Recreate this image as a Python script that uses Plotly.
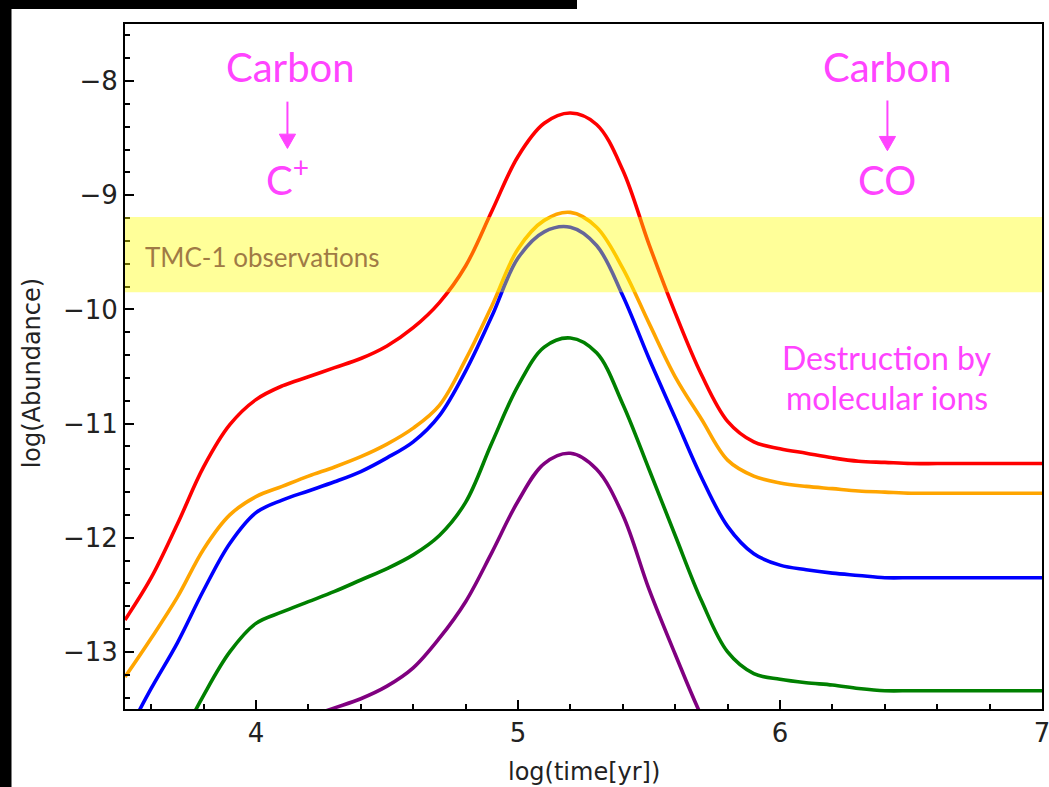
import plotly.graph_objects as go

# Abundance curves: log(time [yr]) vs log(abundance), sampled every 0.1 dex in time
red_x = [3.5, 3.6, 3.7, 3.8, 3.9, 4.0, 4.1, 4.2, 4.3, 4.4, 4.5, 4.6, 4.7, 4.8, 4.9, 5.0, 5.1, 5.2,
         5.3, 5.4, 5.5, 5.6, 5.7, 5.8, 5.9, 6.0, 6.1, 6.2, 6.3, 6.4, 6.5, 6.6, 6.7, 6.8, 6.9, 7.0]
red_y = [-12.72, -12.35, -11.88, -11.38, -11.01, -10.79, -10.67, -10.59, -10.51, -10.43, -10.32,
         -10.16, -9.94, -9.62, -9.14, -8.66, -8.37, -8.28, -8.38, -8.78, -9.43, -10.03, -10.57,
         -10.98, -11.16, -11.22, -11.26, -11.30, -11.33, -11.34, -11.35, -11.35, -11.35, -11.35,
         -11.35, -11.35]

orange_x = red_x
orange_y = [-13.22, -12.88, -12.52, -12.10, -11.80, -11.64, -11.55, -11.46, -11.38, -11.29, -11.18,
            -11.04, -10.84, -10.44, -9.97, -9.47, -9.22, -9.15, -9.28, -9.64, -10.12, -10.59, -10.96,
            -11.32, -11.46, -11.52, -11.55, -11.57, -11.59, -11.60, -11.61, -11.61, -11.61, -11.61,
            -11.61, -11.61]

blue_x = red_x
blue_y = [-13.75, -13.32, -12.92, -12.46, -12.05, -11.78, -11.67, -11.59, -11.51, -11.42, -11.30,
          -11.16, -10.93, -10.54, -10.06, -9.55, -9.32, -9.28, -9.44, -9.88, -10.43, -10.95, -11.47,
          -11.90, -12.14, -12.24, -12.28, -12.31, -12.33, -12.35, -12.35, -12.35, -12.35, -12.35,
          -12.35, -12.35]

green_x = [3.7, 3.8, 3.9, 4.0, 4.1, 4.2, 4.3, 4.4, 4.5, 4.6, 4.7, 4.8, 4.9, 5.0, 5.1, 5.2, 5.3, 5.4,
           5.5, 5.6, 5.7, 5.8, 5.9, 6.0, 6.1, 6.2, 6.3, 6.4, 6.5, 6.6, 6.7, 6.8, 6.9, 7.0]
green_y = [-13.82, -13.38, -13.00, -12.75, -12.65, -12.56, -12.47, -12.37, -12.27, -12.15, -11.98,
           -11.69, -11.17, -10.67, -10.33, -10.25, -10.38, -10.83, -11.40, -11.98, -12.55, -13.00,
           -13.19, -13.24, -13.27, -13.29, -13.32, -13.34, -13.34, -13.34, -13.34, -13.34, -13.34,
           -13.34]

purple_x = [4.0, 4.1, 4.2, 4.3, 4.4, 4.5, 4.6, 4.7, 4.8, 4.9, 5.0, 5.1, 5.2, 5.3, 5.4, 5.5, 5.6,
            5.7, 5.8]
purple_y = [-13.77, -13.65, -13.57, -13.49, -13.41, -13.30, -13.14, -12.88, -12.56, -12.13, -11.68,
            -11.35, -11.26, -11.40, -11.80, -12.45, -13.02, -13.56, -14.00]

# Observed range in TMC-1
obs_low, obs_high = -9.85, -9.19

x_ticks = [4, 5, 6, 7]
y_ticks = [-8, -9, -10, -11, -12, -13]

series = [
    (red_x, red_y, "#ff0000"),
    (orange_x, orange_y, "#ffa500"),
    (blue_x, blue_y, "#0000ff"),
    (green_x, green_y, "#008000"),
    (purple_x, purple_y, "#800080"),
]

fig = go.Figure()
for xs, ys, col in series:
    fig.add_trace(go.Scatter(x=xs, y=ys, mode="lines",
                             line=dict(color=col, width=3.6, shape="spline", smoothing=1.0),
                             showlegend=False, hoverinfo="skip"))

tick_font = dict(family="DejaVu Sans", size=26, color="#222222")
axis_common = dict(showgrid=False, zeroline=False, showline=True, linecolor="black", linewidth=2,
                   mirror=True, ticks="inside", tickwidth=2, ticklen=9, tickcolor="black",
                   tickfont=tick_font, automargin=False, ticklabeloverflow="allow")

fig.update_xaxes(range=[3.5, 7.0], tickvals=x_ticks, ticktext=[str(v) for v in x_ticks],
                 minor=dict(dtick=0.2, tick0=3.4, ticks="inside", ticklen=5, tickwidth=1.5,
                            tickcolor="black"),
                 **axis_common)
fig.update_yaxes(range=[-13.5, -7.5], tickvals=y_ticks, ticktext=["\u2212" + str(-v) for v in y_ticks],
                 minor=dict(dtick=0.2, tick0=-8, ticks="inside", ticklen=5, tickwidth=1.5,
                            tickcolor="black"),
                 **axis_common)

magenta = "#ff44ff"
ann_font = "Lato"
annotations = [
    dict(x=4.13, y=-7.88, text="Carbon", font=dict(family=ann_font, size=40, color=magenta)),
    dict(x=4.12, y=-8.84, text="C<sup>+</sup>", font=dict(family=ann_font, size=40, color=magenta)),
    dict(x=6.41, y=-7.88, text="Carbon", font=dict(family=ann_font, size=40, color=magenta)),
    dict(x=6.41, y=-8.87, text="CO", font=dict(family=ann_font, size=40, color=magenta)),
    dict(x=6.41, y=-10.42, text="Destruction by", font=dict(family=ann_font, size=32, color=magenta)),
    dict(x=6.41, y=-10.77, text="molecular ions", font=dict(family=ann_font, size=32, color=magenta)),
    dict(x=3.569, y=-9.54, text="TMC-1 observations", xanchor="left",
         font=dict(family=ann_font, size=26, color="#a07a45")),
]
for a in annotations:
    a.update(xref="x", yref="y", showarrow=False)
    a.setdefault("xanchor", "center")
    a["yanchor"] = "middle"

# Axis titles
annotations.append(dict(x=0.5, y=-0.092, xref="paper", yref="paper", text="log(time[yr])",
                        showarrow=False, xanchor="center", yanchor="middle",
                        font=dict(family="DejaVu Sans", size=24, color="#222222")))
annotations.append(dict(x=-0.1014, y=0.49, xref="paper", yref="paper", text="log(Abundance)",
                        showarrow=False, xanchor="center", yanchor="middle", textangle=-90,
                        font=dict(family="DejaVu Sans", size=24, color="#222222")))

shapes = [
    dict(type="rect", xref="paper", yref="y", x0=0, x1=1, y0=obs_low, y1=obs_high,
         fillcolor="rgba(255,255,0,0.4)", line=dict(width=0), layer="above"),
    # black border strips around the figure
    dict(type="rect", xref="paper", yref="paper", x0=-0.20, x1=(11.5 - 125) / 917, y0=-0.2, y1=1.1,
         fillcolor="black", line=dict(width=0), layer="above"),
    dict(type="rect", xref="paper", yref="paper", x0=-0.20, x1=(577 - 125) / 917, y0=700 / 685,
         y1=1.1, fillcolor="black", line=dict(width=0), layer="above"),
]

# Arrows: Carbon -> C+ and Carbon -> CO (shaft plus filled head)
head_w, head_h = 0.031, 0.125
for ax_x, tail, tip in [(4.12, -8.18, -8.59), (6.41, -8.17, -8.61)]:
    shapes.append(dict(type="line", xref="x", yref="y", x0=ax_x, x1=ax_x, y0=tail, y1=tip + head_h,
                       line=dict(color=magenta, width=2)))
    shapes.append(dict(type="path", xref="x", yref="y",
                       path=f"M {ax_x - head_w},{tip + head_h} L {ax_x + head_w},{tip + head_h} "
                            f"L {ax_x},{tip} Z",
                       fillcolor=magenta, line=dict(color=magenta, width=1)))

fig.update_layout(width=1049, height=787, margin=dict(l=125, r=7, t=24, b=78),
                  paper_bgcolor="white", plot_bgcolor="white",
                  annotations=annotations, shapes=shapes)

fig.write_html("out.html")
